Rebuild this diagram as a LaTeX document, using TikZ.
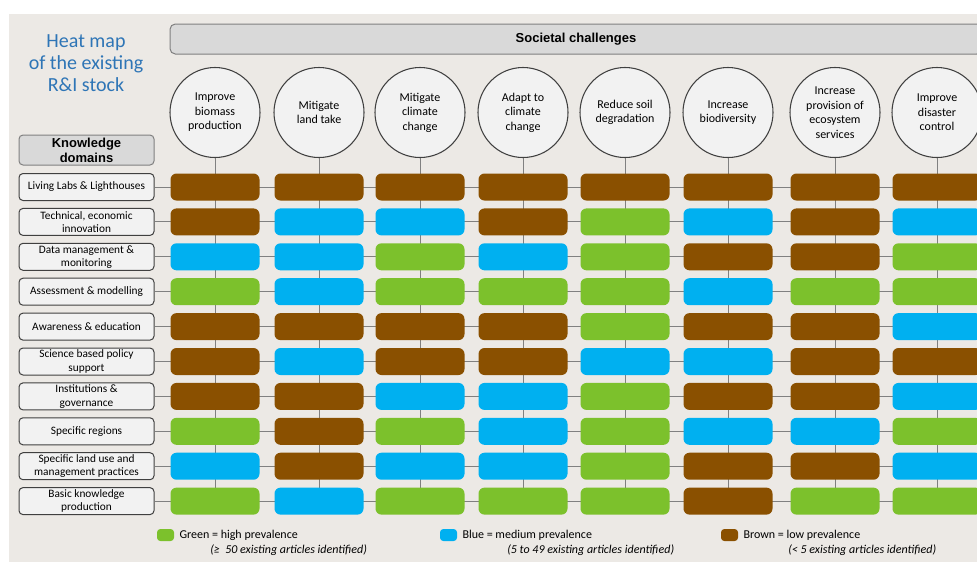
\documentclass[tikz,border=0pt]{standalone}
\usepackage{fontspec}
\setmainfont{Carlito}
\newfontfamily\arialfont{Liberation Sans}
\usetikzlibrary{positioning}

\definecolor{hmBlue}{RGB}{46,117,182}
\definecolor{bgBeige}{RGB}{236,233,229}
\definecolor{hdrGrey}{RGB}{217,217,217}
\definecolor{boxGrey}{RGB}{242,242,242}
\definecolor{gr}{RGB}{124,193,44}
\definecolor{bl}{RGB}{0,176,240}
\definecolor{bn}{RGB}{138,80,0}

\begin{document}
\begin{tikzpicture}[x=0.75pt,y=0.75pt,yscale=-1,xscale=1,
  challenge/.style={circle,draw={rgb, 255:red, 64; green, 64; blue, 64},fill=boxGrey,line width=0.8pt,minimum size=67.5pt,inner sep=0pt,align=center,font=\fontsize{9}{10.9}\selectfont},
  domainbox/.style={rectangle,rounded corners=3pt,draw={rgb, 255:red, 64; green, 64; blue, 64},fill=boxGrey,line width=0.75pt,minimum width=101.25pt,minimum height=20.25pt,inner sep=0pt,align=center,font=\fontsize{8.5}{10}\selectfont},
  hmcell/.style={rectangle,rounded corners=4.5pt,minimum width=66.75pt,minimum height=20.25pt,inner sep=0pt},
  conn/.style={draw={rgb, 255:red, 128; green, 128; blue, 128},line width=0.75pt},
  keybox/.style={rectangle,rounded corners=2.5pt,minimum width=12.75pt,minimum height=9pt,inner sep=0pt},
  keytext/.style={anchor=west,inner sep=0pt,font=\fontsize{9}{11}\selectfont},
]

\clip (0,0) rectangle (977,562);
%Background
\fill [bgBeige] (9,14) rectangle (977,562);

% Header bar
\node [draw={rgb, 255:red, 128; green, 128; blue, 128},fill=hdrGrey,line width=0.75pt,rounded corners=4pt,minimum width=609pt,minimum height=22.5pt,font=\arialfont\bfseries\fontsize{9.75}{11}\selectfont] (hdr) at (576,39) {Societal challenges};
% Title
\node [align=center,text=hmBlue,font=\fontsize{15}{16.5}\selectfont] (title) at (86,63) {Heat map\\of the existing\\R\&I stock};
% Knowledge domains
\node [domainbox,fill=hdrGrey,draw={rgb, 255:red, 128; green, 128; blue, 128},minimum height=22.5pt,font=\arialfont\bfseries\fontsize{9.75}{11.25}\selectfont] (kd) at (86.5,150) {Knowledge\\domains};

%Shape: Circle (challenges)
\node [challenge] (c1) at (215,112.5) {Improve\\biomass\\production};
\node [challenge] (c2) at (319,112.5) {Mitigate\\land take};
\node [challenge] (c3) at (420,112.5) {Mitigate\\climate\\change};
\node [challenge] (c4) at (523,112.5) {Adapt to\\climate\\change};
\node [challenge] (c5) at (625,112.5) {Reduce soil\\degradation};
\node [challenge] (c6) at (728,112.5) {Increase\\biodiversity};
\node [challenge] (c7) at (835,112.5) {Increase\\provision of\\ecosystem\\services};
\node [challenge] (c8) at (937,112.5) {Improve\\disaster\\control};

% Domain boxes
\node [domainbox] (r1) at (86.5,187) {Living Labs \& Lighthouses};
\node [domainbox] (r2) at (86.5,221.9) {Technical, economic\\innovation};
\node [domainbox] (r3) at (86.5,256.8) {Data management \&\\monitoring};
\node [domainbox] (r4) at (86.5,291.7) {Assessment \& modelling};
\node [domainbox] (r5) at (86.5,326.6) {Awareness \& education};
\node [domainbox] (r6) at (86.5,361.5) {Science based policy\\support};
\node [domainbox] (r7) at (86.5,396.4) {Institutions \&\\governance};
\node [domainbox] (r8) at (86.5,431.3) {Specific regions};
\node [domainbox] (r9) at (86.5,466.2) {Specific land use and\\management practices};
\node [domainbox] (r10) at (86.5,501.1) {Basic knowledge\\production};
\coordinate (rim) at (977,187);

%Straight Lines
\foreach \j in {1,...,8} \draw [conn] (c\j.south) -- (c\j |- r10);
\foreach \i in {1,...,10} \draw [conn] (r\i.east) -- (r\i -| rim);

% Heat map cells
\foreach \i/\row in {1/{bn,bn,bn,bn,bn,bn,bn,bn},
                     2/{bn,bl,bl,bn,gr,bl,bn,bl},
                     3/{bl,bl,gr,bl,gr,bn,bn,gr},
                     4/{gr,bl,gr,gr,gr,bl,gr,gr},
                     5/{bn,bn,bn,bn,gr,bn,bn,bl},
                     6/{bn,bl,bn,bn,bl,bl,bn,bn},
                     7/{bn,bn,bl,bl,gr,bn,bn,bl},
                     8/{gr,bn,gr,bl,gr,bl,bl,gr},
                     9/{bl,bn,bl,bl,gr,bn,bn,bl},
                     10/{gr,bl,gr,gr,gr,bn,gr,gr}}
  \foreach \col [count=\j] in \row
    \node [hmcell,fill=\col] (cell\i-\j) at (c\j |- r\i) {};

% Legend
\node [keybox,fill=gr] (kG) at (165.5,535) {};
\node [keytext,right=3.75pt of kG] (tG) {Green = high prevalence};
\node [keytext,font=\itshape\fontsize{9}{11}\selectfont] (nG) at (210,550) {(≥\ \ 50 existing articles identified)};
\node [keybox,fill=bl] (kB) at (448.5,535) {};
\node [keytext,right=3.75pt of kB] (tB) {Blue = medium prevalence};
\node [keytext,font=\itshape\fontsize{9}{11}\selectfont] (nB) at (507,550) {(5 to 49 existing articles identified)};
\node [keybox,fill=bn] (kN) at (729.5,535) {};
\node [keytext,right=3.75pt of kN] (tN) {Brown = low prevalence};
\node [keytext,font=\itshape\fontsize{9}{11}\selectfont] (nN) at (788,550) {(< 5 existing articles identified)};
\end{tikzpicture}
\end{document}
